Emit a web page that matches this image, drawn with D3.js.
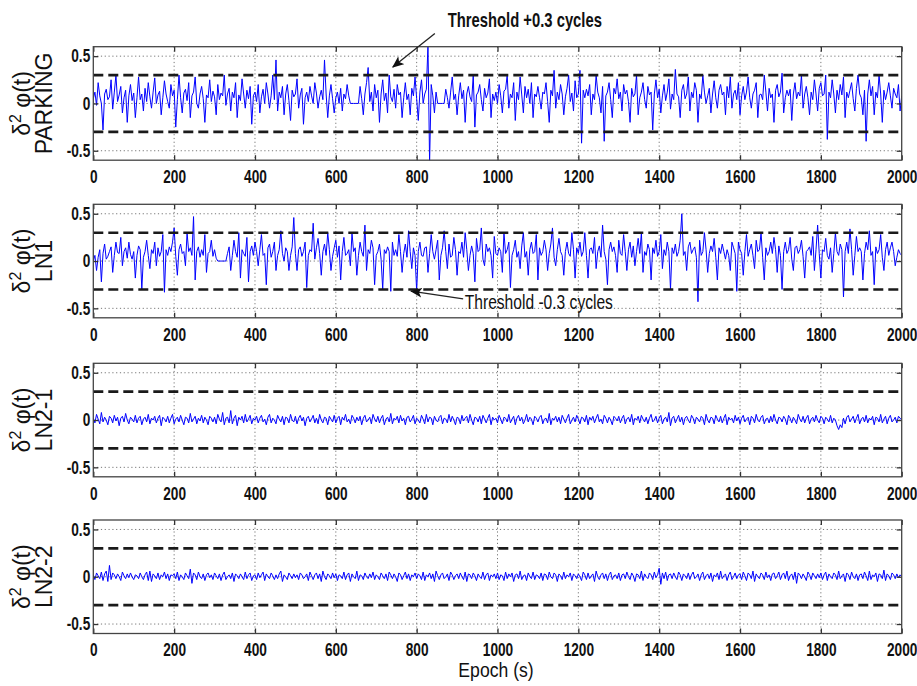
<!DOCTYPE html>
<html>
<head>
<meta charset="utf-8">
<script src="https://cdn.jsdelivr.net/npm/d3@7"></script>
<style>
  body { margin: 0; background: #fff; }
  text { font-family: "Liberation Sans", Arial, sans-serif; }
</style>
</head>
<body>
<div id="chart"></div>
<script>
const epochs = d3.range(0, 2001, 4);

const parking = [
  0.05,0.12,-0.02,0.22,0.08,0.0,-0.28,0.1,0.15,0.04,0.07,0.25,-0.06,0.12,0.3,0.02,0.09,0.18,-0.1,0.06,0.14,-0.2,0.08,0.2,0.03,
  0.11,-0.15,0.06,0.28,0.04,0.1,-0.08,0.16,0.02,0.22,0.07,-0.05,0.12,0.27,0.0,0.09,0.13,-0.12,0.06,0.24,0.1,0.02,-0.05,0.2,0.08,
  0.14,-0.25,0.04,0.3,0.06,-0.1,0.11,0.15,0.03,0.22,-0.15,0.08,0.12,0.28,0.0,-0.05,0.1,0.18,0.05,-0.2,0.09,0.06,0.25,0.02,0.13,
  0.07,-0.12,0.2,0.04,0.11,0.08,0.3,-0.02,0.1,0.16,-0.08,0.12,0.06,0.22,-0.15,0.09,0.03,0.26,0.1,-0.05,0.14,0.05,0.18,-0.22,0.08,
  0.12,0.02,0.2,-0.1,0.07,0.15,0.0,0.22,0.1,-0.05,0.08,0.3,0.04,0.46,-0.08,0.12,0.06,0.18,-0.12,0.1,0.2,0.03,-0.18,0.14,0.07,
  0.1,0.26,-0.05,0.09,0.16,-0.22,0.06,0.12,0.02,0.18,0.08,0.0,0.22,0.11,-0.05,0.07,0.14,0.04,0.46,0.1,-0.15,0.08,0.2,0.05,-0.1,
  0.06,0.12,0.0,0.16,-0.08,0.1,0.05,0.2,0.08,0.0,0.0,0.0,0.0,0.0,0.0,0.18,0.05,-0.12,0.1,0.22,0.38,0.02,0.12,-0.08,0.2,
  0.06,0.14,-0.2,0.1,0.25,0.03,0.11,-0.1,0.3,0.07,0.02,0.15,-0.05,0.2,0.09,0.12,-0.15,0.06,0.22,0.04,0.1,-0.12,0.16,0.08,0.28,
  0.05,-0.18,0.12,0.25,0.0,0.1,0.15,0.62,-0.62,0.2,0.08,-0.1,0.12,0.0,0.0,0.0,0.0,0.0,0.15,0.06,-0.05,0.12,0.28,0.04,0.1,
  -0.12,0.08,0.22,0.05,0.14,-0.2,0.1,0.18,0.07,0.02,0.3,-0.25,0.09,0.12,0.2,0.04,-0.08,0.16,0.06,0.11,0.26,-0.15,0.1,0.03,0.12,
  0.0,0.2,0.08,-0.1,0.13,0.15,0.3,-0.05,0.1,0.06,0.22,-0.18,0.12,0.04,0.28,0.09,-0.1,0.18,0.06,0.15,0.0,0.22,-0.15,0.1,0.07,
  0.18,0.06,-0.06,0.12,0.1,0.22,0.02,-0.2,0.14,0.08,0.35,-0.05,0.12,0.04,0.2,0.1,-0.12,0.07,0.16,0.3,0.02,0.11,-0.08,0.24,0.06,
  0.1,0.35,-0.42,0.14,0.06,0.15,0.08,0.2,-0.12,0.1,0.04,0.3,0.12,0.06,-0.1,0.18,-0.4,0.08,0.12,0.22,0.04,-0.15,0.16,0.1,0.26,
  0.05,0.12,-0.08,0.2,0.1,0.14,0.02,-0.2,0.16,0.07,0.1,0.3,-0.12,0.06,0.12,0.22,0.04,-0.05,0.18,0.09,0.12,-0.28,0.1,0.25,0.06,
  0.15,-0.1,0.08,0.2,0.03,0.12,0.26,-0.06,0.1,0.04,0.36,0.1,0.07,-0.15,0.14,0.2,0.05,0.1,0.28,-0.08,0.12,0.06,0.22,0.14,-0.2,
  0.1,0.05,0.3,0.12,0.0,0.08,0.16,-0.1,0.1,0.24,0.06,-0.05,0.14,0.2,0.09,0.12,-0.12,0.18,0.06,0.28,-0.05,0.1,0.14,0.04,0.22,
  -0.12,0.08,0.18,0.04,0.12,0.28,0.06,-0.05,0.1,0.14,0.22,-0.15,0.09,0.1,0.04,0.3,0.12,-0.08,0.16,0.06,0.1,-0.2,0.14,0.2,0.07,
  0.12,0.32,-0.1,0.06,0.14,0.08,0.15,-0.18,0.1,0.22,0.05,0.12,0.08,0.3,-0.05,0.1,0.18,0.06,-0.12,0.12,0.04,0.25,0.1,-0.08,0.16,
  0.22,0.08,0.1,0.3,-0.38,0.12,0.06,0.25,0.1,-0.1,0.14,0.04,0.2,0.09,0.28,-0.15,0.12,0.06,0.14,0.22,0.05,-0.08,0.16,0.3,0.1,
  0.06,-0.12,0.14,-0.4,0.1,0.25,0.08,0.18,-0.12,0.12,0.06,0.3,0.1,-0.2,0.14,0.04,0.12,0.22,0.08,-0.05,0.16,0.1,0.06,0.2,-0.08,
  0.08
];

const ln1 = [
  0.0,0.06,-0.1,0.04,0.12,-0.22,0.08,0.18,0.02,0.05,0.1,0.15,-0.12,0.06,0.2,0.09,0.08,0.25,-0.05,0.1,0.14,0.03,0.2,0.07,0.02,
  0.1,-0.18,0.06,0.16,0.12,-0.3,0.04,0.1,0.22,0.06,-0.08,0.12,0.08,0.2,-0.05,0.14,0.05,0.1,0.28,-0.33,0.12,0.06,0.15,0.1,0.2,
  0.35,0.05,-0.15,0.12,0.18,0.08,0.1,-0.05,0.3,0.1,0.14,0.06,0.47,-0.2,0.1,0.15,0.04,0.12,0.06,0.28,-0.12,0.08,0.1,0.22,0.05,
  0.12,0.03,0.0,0.0,0.0,0.0,0.0,0.0,0.08,0.15,-0.1,0.06,0.22,0.1,0.04,0.3,-0.18,0.12,0.08,0.05,0.25,-0.22,0.1,0.16,0.06,
  0.2,0.1,-0.05,0.12,0.28,0.06,0.08,-0.25,0.14,0.18,0.04,0.1,0.2,-0.1,0.06,0.12,0.32,0.08,0.0,0.14,0.1,-0.1,0.06,0.15,0.46,
  0.08,-0.1,0.12,0.15,0.05,0.1,0.2,-0.28,0.06,0.12,0.1,0.4,0.02,0.14,0.24,0.08,-0.15,0.1,0.18,0.06,0.3,0.12,-0.1,0.05,0.14,
  0.22,0.04,0.16,-0.2,0.1,0.25,0.06,0.08,0.12,-0.05,0.3,0.1,0.14,-0.15,0.06,0.2,0.1,0.05,0.38,-0.1,0.12,0.08,0.22,0.14,-0.25,
  0.06,0.1,0.18,0.02,-0.3,0.12,0.08,0.15,0.1,-0.32,0.2,0.06,0.12,0.05,0.28,0.1,-0.12,0.08,0.18,0.04,0.32,0.1,-0.08,0.14,0.06,
  -0.32,0.1,0.2,0.06,0.05,0.14,0.15,-0.12,0.08,0.28,0.1,0.02,0.12,0.22,-0.2,0.06,0.14,0.32,0.1,-0.08,0.18,0.04,0.06,0.25,0.12,
  -0.15,0.1,0.08,0.2,0.04,0.3,0.12,-0.1,0.06,0.16,0.08,-0.22,0.24,0.1,0.12,0.35,0.02,-0.05,0.18,0.1,0.14,0.06,-0.18,0.26,0.08,
  0.06,0.14,0.1,-0.12,0.3,0.08,0.12,0.2,-0.28,0.06,0.12,0.22,0.04,0.1,-0.08,0.16,0.3,0.04,0.1,-0.15,0.12,0.2,0.08,0.1,0.28,
  -0.2,0.14,0.06,0.1,0.22,0.12,-0.1,0.08,0.18,0.35,0.04,-0.05,0.12,0.24,0.1,0.06,-0.15,0.1,0.2,0.08,0.05,0.3,0.12,-0.18,0.14,
  0.08,0.2,0.05,0.1,0.3,0.06,-0.18,0.12,0.14,0.08,0.25,-0.08,0.1,0.16,0.04,0.38,0.1,0.02,-0.25,0.12,0.2,0.1,0.15,0.06,-0.12,
  0.22,0.08,0.06,0.28,0.1,-0.1,0.12,0.2,0.04,0.16,-0.05,0.1,0.24,0.08,0.3,-0.12,0.1,0.06,0.18,0.12,-0.2,0.14,0.08,0.22,0.05,
  0.1,0.28,-0.08,0.12,0.06,0.2,0.1,-0.3,0.14,0.08,0.18,0.05,0.1,0.22,0.5,0.06,0.1,-0.1,0.15,0.2,0.08,0.12,0.15,0.04,-0.43,
  0.22,0.06,0.1,0.3,0.12,-0.12,0.08,0.16,0.1,0.24,0.04,-0.2,0.14,0.08,0.18,0.1,0.02,0.12,0.06,-0.1,0.2,0.14,0.08,-0.32,0.2,
  0.12,0.08,-0.15,0.1,0.28,0.05,0.12,0.18,0.06,-0.08,0.22,0.1,0.12,0.3,0.04,-0.2,0.14,0.06,0.1,0.2,0.08,0.25,0.12,-0.12,0.16,
  0.06,-0.3,0.1,0.2,0.08,0.12,0.25,0.02,-0.1,0.14,0.16,0.08,0.12,0.22,0.05,-0.18,0.1,0.12,0.15,0.06,0.26,-0.1,0.12,0.38,0.08,
  -0.18,0.12,0.1,0.24,0.06,0.02,0.14,-0.12,0.08,0.3,0.1,0.06,0.18,0.12,-0.38,0.1,0.2,0.08,0.34,0.12,-0.15,0.06,0.26,0.1,0.14,
  0.1,-0.2,0.08,0.2,0.12,0.32,0.06,0.1,-0.25,0.15,0.08,0.12,0.28,0.04,-0.1,0.12,0.2,0.06,0.14,0.2,0.1,-0.05,0.04,0.12,0.08,
  0.06
];

const ln21 = [
  0.02,-0.03,0.06,0.01,-0.04,0.08,-0.02,0.03,0.0,-0.05,0.04,0.02,-0.03,0.05,-0.01,0.03,-0.06,0.02,0.04,-0.02,0.07,0.0,-0.04,0.03,0.01,
  -0.02,0.05,-0.03,0.02,0.04,-0.05,0.01,0.03,-0.02,0.06,-0.04,0.02,0.0,0.04,-0.03,0.02,0.05,-0.06,0.03,0.01,-0.02,0.04,-0.03,0.02,0.06,
  -0.04,0.01,0.03,-0.02,0.05,0.0,-0.05,0.03,0.02,-0.03,0.07,-0.02,0.01,0.04,-0.04,0.02,-0.01,0.05,-0.03,0.03,0.0,-0.05,0.04,0.02,-0.02,
  0.03,-0.04,0.06,0.01,-0.02,0.08,-0.05,0.02,0.03,-0.03,0.1,-0.04,0.02,0.05,-0.06,0.03,0.0,0.04,-0.03,0.06,-0.02,0.01,0.05,-0.04,0.02,
  0.0,0.04,-0.03,0.02,0.05,-0.02,0.01,-0.05,0.03,0.06,-0.03,0.02,0.0,-0.04,0.05,0.01,-0.02,0.04,-0.05,0.03,0.02,-0.03,0.06,0.0,-0.02,
  0.04,-0.04,0.02,0.05,-0.01,0.03,-0.06,0.02,0.04,-0.02,0.01,0.05,-0.03,0.02,-0.04,0.06,0.0,-0.03,0.03,0.02,-0.05,0.04,0.01,-0.02,0.05,
  -0.03,0.02,0.04,-0.05,0.03,0.0,0.06,-0.02,0.01,-0.04,0.05,0.02,-0.03,0.03,-0.01,0.04,-0.05,0.02,0.05,-0.02,0.0,0.03,-0.04,0.06,0.01,
  -0.02,0.04,-0.03,0.02,0.05,-0.05,0.01,0.03,-0.02,0.07,-0.04,0.02,0.0,0.04,-0.03,0.05,-0.01,0.02,-0.05,0.03,0.04,-0.02,0.01,0.05,-0.04,
  0.02,0.0,-0.03,0.05,0.01,-0.04,0.06,-0.02,0.03,0.02,-0.05,0.04,0.0,-0.02,0.03,0.05,-0.04,0.02,0.01,-0.03,0.06,-0.02,0.04,0.0,-0.05,
  0.03,0.02,-0.04,0.05,-0.01,0.02,0.04,-0.03,0.06,0.0,-0.05,0.03,0.02,-0.02,0.04,-0.04,0.05,0.01,-0.03,0.02,0.06,-0.05,0.03,0.0,0.02,
  -0.03,0.05,0.01,-0.04,0.03,0.02,-0.02,0.06,-0.03,0.01,0.04,-0.05,0.02,0.05,-0.01,0.03,-0.04,0.0,0.06,-0.02,0.03,0.01,-0.05,0.04,0.02,
  -0.02,0.03,0.05,-0.04,0.01,0.02,-0.03,0.07,-0.05,0.02,0.0,0.04,-0.02,0.03,-0.04,0.05,0.01,-0.03,0.02,0.06,-0.04,0.0,0.03,-0.02,0.05,
  0.01,-0.04,0.03,0.02,-0.02,0.05,-0.05,0.03,0.0,0.04,-0.03,0.02,0.06,-0.02,0.01,-0.04,0.05,0.02,-0.03,0.03,0.0,-0.05,0.04,0.02,-0.01,
  0.04,-0.03,0.02,0.05,-0.04,0.01,0.03,-0.02,0.06,-0.05,0.02,0.0,0.04,-0.03,0.05,0.01,-0.02,0.03,-0.04,0.02,0.06,-0.02,0.0,0.04,-0.03,
  0.02,0.05,-0.04,0.01,0.03,-0.02,0.08,-0.06,0.02,0.04,-0.03,0.01,0.05,-0.02,0.03,-0.05,0.02,0.04,0.0,-0.03,0.05,0.02,-0.04,0.03,0.01,
  -0.02,0.04,0.02,-0.05,0.06,0.0,-0.03,0.03,0.02,-0.04,0.05,0.01,-0.02,0.04,-0.03,0.02,0.06,-0.05,0.03,0.0,0.02,-0.03,0.05,-0.01,0.03,
  -0.04,0.02,0.05,-0.02,0.01,0.03,-0.05,0.04,0.02,-0.03,0.06,0.0,-0.02,0.03,0.05,-0.04,0.01,0.02,-0.03,0.04,-0.02,0.06,0.0,-0.04,0.03,
  0.02,-0.02,0.04,0.01,-0.05,0.05,0.02,-0.03,0.03,0.0,-0.04,0.06,0.01,-0.02,0.04,-0.03,0.02,0.05,-0.04,0.01,0.03,-0.02,0.05,0.0,-0.03,
  0.04,0.02,-0.04,0.03,0.01,-0.02,0.05,-0.03,0.02,0.0,-0.06,-0.1,-0.05,-0.08,0.02,-0.04,0.03,0.05,-0.02,0.01,0.04,-0.03,0.02,0.06,-0.04,
  0.01,0.03,-0.02,0.05,-0.03,0.02,0.0,0.04,-0.05,0.03,0.02,-0.02,0.06,-0.03,0.01,0.04,-0.04,0.02,0.05,-0.02,0.0,0.03,-0.03,0.04,0.02,
  0.0
];

const ln22 = [
  0.02,-0.03,0.04,0.01,-0.02,0.05,-0.04,0.03,0.06,-0.05,0.12,-0.03,0.04,0.02,-0.02,0.03,0.0,-0.04,0.05,0.01,-0.02,0.03,-0.01,0.04,0.0,
  -0.03,0.02,0.01,-0.02,0.04,0.0,-0.03,0.02,0.05,-0.04,0.06,-0.05,0.03,0.01,-0.02,0.04,-0.03,0.02,0.0,0.05,-0.02,0.03,-0.04,0.02,0.01,
  0.03,-0.02,0.05,-0.04,0.02,0.0,-0.03,0.04,0.01,-0.02,0.08,-0.07,0.04,0.02,-0.03,0.05,0.0,-0.02,0.03,-0.04,0.02,0.04,-0.01,0.02,-0.03,
  0.04,0.01,-0.02,0.03,-0.04,0.02,0.05,-0.03,0.0,0.02,-0.02,0.04,-0.05,0.03,0.01,-0.02,0.03,0.0,-0.03,0.05,-0.02,0.02,0.04,-0.04,0.01,
  0.02,-0.03,0.04,-0.01,0.02,0.05,-0.04,0.03,0.0,-0.02,0.04,0.01,-0.03,0.02,-0.02,0.03,0.06,-0.05,0.02,0.0,-0.03,0.04,0.01,-0.02,0.03,
  -0.01,0.02,-0.03,0.04,0.02,-0.02,0.0,0.03,-0.04,0.05,0.01,-0.03,0.02,0.04,-0.02,0.03,-0.05,0.06,0.0,-0.03,0.03,0.01,-0.02,0.04,-0.01,
  0.03,-0.04,0.02,0.01,-0.02,0.05,-0.03,0.02,0.04,-0.05,0.03,0.0,-0.02,0.06,-0.04,0.02,0.01,-0.03,0.04,0.0,-0.02,0.03,-0.01,0.05,-0.03,
  0.02,0.0,-0.03,0.04,0.01,-0.02,0.03,-0.04,0.05,0.02,-0.02,0.03,0.0,-0.05,0.04,0.02,-0.03,0.01,0.05,-0.02,0.03,-0.04,0.02,0.0,0.04,
  -0.02,0.03,0.01,-0.03,0.05,-0.04,0.02,0.0,0.04,-0.02,0.03,-0.05,0.06,0.01,-0.03,0.02,0.04,-0.02,0.0,0.03,-0.04,0.05,0.02,-0.03,0.01,
  0.03,-0.02,0.04,0.0,-0.03,0.05,-0.05,0.03,0.02,-0.02,0.04,0.01,-0.04,0.03,0.0,-0.02,0.05,-0.03,0.02,0.04,-0.04,0.02,0.0,0.03,-0.02,
  0.04,-0.03,0.02,0.01,-0.04,0.05,-0.02,0.03,0.0,0.04,-0.05,0.02,0.03,-0.02,0.06,-0.03,0.01,0.02,-0.04,0.04,0.0,-0.02,0.05,-0.03,0.02,
  0.01,-0.02,0.04,-0.04,0.03,0.02,-0.03,0.05,0.0,-0.02,0.04,0.02,-0.05,0.03,0.01,-0.03,0.05,-0.02,0.02,0.0,0.04,-0.04,0.03,0.01,-0.02,
  0.03,0.0,-0.04,0.05,0.02,-0.03,0.04,-0.02,0.01,0.03,-0.05,0.06,0.0,-0.03,0.02,0.04,-0.02,0.03,-0.04,0.02,0.05,-0.03,0.01,0.02,-0.02,
  0.04,-0.04,0.02,0.03,-0.02,0.05,0.0,-0.03,0.04,0.01,-0.05,0.03,0.02,-0.02,0.06,-0.04,0.03,0.0,-0.02,0.04,0.02,-0.03,0.05,-0.01,0.02,
  0.09,-0.08,0.04,-0.02,0.05,-0.04,0.02,0.03,-0.02,0.04,0.0,-0.03,0.05,0.02,-0.04,0.03,0.01,-0.02,0.04,-0.03,0.02,0.05,-0.02,0.0,0.03,
  -0.04,0.02,0.05,-0.03,0.01,0.03,-0.02,0.04,-0.05,0.02,0.0,0.04,-0.03,0.06,-0.02,0.01,0.03,-0.04,0.02,0.05,-0.03,0.0,0.04,-0.02,0.02,
  0.03,-0.03,0.05,0.01,-0.04,0.04,0.02,-0.02,0.06,-0.05,0.03,0.0,-0.02,0.04,0.02,-0.03,0.05,-0.01,0.02,-0.04,0.03,0.04,-0.02,0.01,0.05,
  -0.03,0.02,0.04,-0.02,0.06,-0.04,0.01,0.03,-0.03,0.05,-0.07,0.04,0.02,-0.02,0.03,0.0,-0.04,0.05,0.02,-0.03,0.04,0.01,-0.02,0.03,-0.01,
  0.04,-0.03,0.02,0.05,-0.04,0.03,0.0,-0.02,0.04,0.02,-0.03,0.06,-0.02,0.01,0.03,-0.05,0.04,0.02,-0.03,0.05,0.0,-0.02,0.03,-0.04,0.02,
  0.03,-0.02,0.05,0.01,-0.04,0.06,-0.03,0.02,0.0,0.04,-0.05,0.03,0.02,-0.02,0.07,-0.04,0.03,0.01,-0.03,0.04,0.02,-0.02,0.03,-0.01,0.02,
  0.0
];

const panelNames = ["PARKING", "LN1", "LN2-1", "LN2-2"];
const panelSeries = [parking, ln1, ln21, ln22];
const xTicks = d3.range(0, 2001, 200);
const yTicks = [-0.5, 0, 0.5];
const thresholds = [0.3, -0.3];

// annotations in data coordinates of the panel they sit in
const notes = [
  { panel: 0, label: "Threshold +0.3 cycles", bold: true, textAt: [877, 0.81], from: [845, 0.74], to: [741, 0.385] },
  { panel: 1, label: "Threshold -0.3 cycles", bold: false, textAt: [919, -0.507], from: [915, -0.40], to: [786, -0.317] }
];

const width = 917, height = 686;
const left = 93.3, right = 901.7;
const panelH = 113.5;
const panelTops = [46.7, 204.3, 363.3, 520];
const squeeze = 0.76; // the figure's text is horizontally compressed

const svg = d3.select("#chart").append("svg")
  .attr("width", width).attr("height", height);

svg.append("defs").append("marker")
  .attr("id", "arrow")
  .attr("markerUnits", "userSpaceOnUse")
  .attr("markerWidth", 12).attr("markerHeight", 10)
  .attr("refX", 11).attr("refY", 5)
  .attr("orient", "auto")
  .append("path").attr("d", "M0,0 L12,5 L0,10 L3,5 z").attr("fill", "#111");

const x = d3.scaleLinear().domain([0, 2000]).range([left, right]);

panelSeries.forEach((vals, p) => {
  const top = panelTops[p];
  const y = d3.scaleLinear().domain([-0.6, 0.6]).range([panelH, 0]);
  const g = svg.append("g").attr("transform", `translate(0,${top})`);

  g.append("clipPath").attr("id", "clip" + p)
    .append("rect").attr("x", left).attr("y", 0).attr("width", right - left).attr("height", panelH);

  // dotted grid
  g.selectAll(".gx").data(xTicks.slice(1, -1)).join("line")
    .attr("x1", d => x(d)).attr("x2", d => x(d)).attr("y1", 0).attr("y2", panelH)
    .attr("stroke", "#777").attr("stroke-width", 1).attr("stroke-dasharray", "1.2,2.6");
  g.selectAll(".gy").data(yTicks).join("line")
    .attr("x1", left).attr("x2", right).attr("y1", d => y(d)).attr("y2", d => y(d))
    .attr("stroke", "#777").attr("stroke-width", 1).attr("stroke-dasharray", "1.2,2.6");

  // data
  const line = d3.line().x((d, i) => x(epochs[i])).y(d => y(d));
  g.append("path").datum(vals)
    .attr("clip-path", `url(#clip${p})`)
    .attr("d", line)
    .attr("fill", "none").attr("stroke", "#0000ff").attr("stroke-width", 1);

  // threshold lines
  g.selectAll(".th").data(thresholds).join("line")
    .attr("x1", left).attr("x2", right).attr("y1", d => y(d)).attr("y2", d => y(d))
    .attr("stroke", "#1a1a1a").attr("stroke-width", 2.6).attr("stroke-dasharray", "10,5");

  // axes (MATLAB style inward ticks on all four sides)
  const bottom = g.append("g").attr("transform", `translate(0,${panelH})`)
    .call(d3.axisBottom(x).tickValues(xTicks).tickSize(-5).tickPadding(10).tickFormat(d => String(d)));
  const leftAx = g.append("g").attr("transform", `translate(${left},0)`)
    .call(d3.axisLeft(y).tickValues(yTicks).tickSize(-5).tickPadding(4).tickFormat(d => String(d)));
  g.append("g").call(d3.axisTop(x).tickValues(xTicks).tickSize(-5).tickFormat(""));
  g.append("g").attr("transform", `translate(${right},0)`)
    .call(d3.axisRight(y).tickValues(yTicks).tickSize(-5).tickFormat(""));

  g.selectAll(".domain").remove();
  g.selectAll(".tick line").attr("stroke", "#333").attr("stroke-width", 1.3);
  [bottom, leftAx].forEach(a => a.selectAll("text")
    .attr("transform", `scale(${squeeze},1)`)
    .attr("font-size", 18).attr("font-weight", "bold").attr("fill", "#111")
    .style("font-family", '"Liberation Sans", Arial, sans-serif'));

  g.append("rect").attr("x", left).attr("y", 0)
    .attr("width", right - left).attr("height", panelH)
    .attr("fill", "none").attr("stroke", "#444").attr("stroke-width", 1.3);

  // y label: two rotated lines
  const lab = g.append("text")
    .attr("transform", `translate(30,${panelH / 2}) rotate(-90)`)
    .attr("text-anchor", "middle").attr("font-size", 23).attr("fill", "#111");
  lab.append("tspan").text("δ");
  lab.append("tspan").attr("dy", -9).attr("font-size", 16).text("2");
  lab.append("tspan").attr("dy", 9).text(" φ(t)");
  g.append("text")
    .attr("transform", `translate(52,${panelH / 2}) rotate(-90)`)
    .attr("text-anchor", "middle").attr("font-size", 23).attr("fill", "#111")
    .text(panelNames[p]);
});

// annotations
notes.forEach(n => {
  const top = panelTops[n.panel];
  const y = d3.scaleLinear().domain([-0.6, 0.6]).range([top + panelH, top]);
  svg.append("line")
    .attr("x1", x(n.from[0])).attr("y1", y(n.from[1]))
    .attr("x2", x(n.to[0])).attr("y2", y(n.to[1]))
    .attr("stroke", "#222").attr("stroke-width", 1.3)
    .attr("marker-end", "url(#arrow)");
  svg.append("text")
    .attr("transform", `translate(${x(n.textAt[0])},${y(n.textAt[1])}) scale(${n.bold ? 0.74 : 0.78},1)`)
    .attr("font-size", 20).attr("font-weight", n.bold ? "bold" : "normal").attr("fill", "#111")
    .text(n.label);
});

svg.append("text")
  .attr("transform", `translate(496,677) scale(0.88,1)`)
  .attr("text-anchor", "middle").attr("font-size", 20).attr("fill", "#111")
  .text("Epoch (s)");
</script>
</body>
</html>
